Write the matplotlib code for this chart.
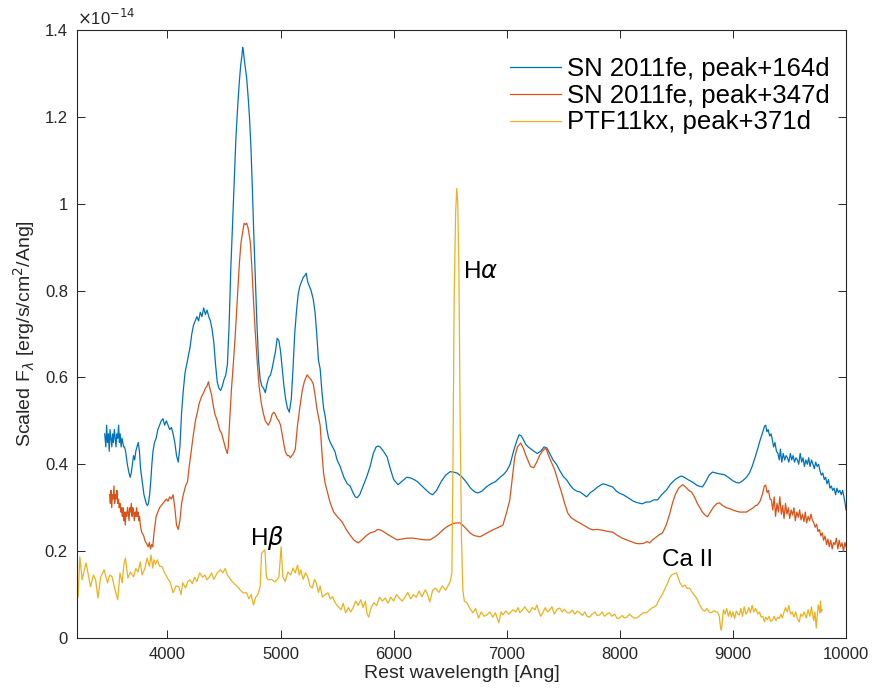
import matplotlib
matplotlib.use("Agg")
import matplotlib.pyplot as plt
import numpy as np
from matplotlib.ticker import FixedLocator, FuncFormatter

plt.rcParams['font.family'] = ['Liberation Sans', 'DejaVu Sans']
plt.rcParams['mathtext.fontset'] = 'dejavusans'

# Flux values are in units of 1e-14 erg/s/cm^2/Ang
FLUX_UNIT_EXP = -14

# ---- SN 2011fe, peak+164d ----
wl_164 = [
    3445, 3455, 3462, 3470, 3478, 3485, 3492, 3500, 3508, 3515, 3522, 3530, 3538, 3545, 3552, 3560,
    3568, 3575, 3582, 3590, 3598, 3605, 3612, 3620, 3630, 3645, 3660, 3670, 3680, 3690, 3700, 3710,
    3720, 3730, 3742, 3752, 3762, 3772, 3782, 3792, 3802, 3812, 3822, 3832, 3842, 3852, 3862, 3872,
    3885, 3900, 3915, 3930, 3945, 3960, 3975, 3990, 4005, 4020, 4035, 4050, 4065, 4080, 4095, 4110,
    4125, 4140, 4155, 4170, 4185, 4200, 4215, 4230, 4245, 4260, 4275, 4290, 4305, 4320, 4335, 4350,
    4365, 4380, 4395, 4410, 4425, 4440, 4455, 4470, 4485, 4500, 4515, 4530, 4545, 4560, 4575, 4590,
    4605, 4620, 4635, 4648, 4658, 4665, 4672, 4680, 4690, 4700, 4712, 4725, 4738, 4750, 4762, 4775,
    4790, 4805, 4820, 4835, 4850, 4865, 4880, 4895, 4910, 4925, 4940, 4955, 4970, 4985, 5000, 5015,
    5030, 5045, 5060, 5077, 5095, 5110, 5125, 5140, 5155, 5170, 5185, 5200, 5215, 5227, 5240, 5255,
    5270, 5289, 5305, 5320, 5335, 5350, 5365, 5380, 5395, 5410, 5425, 5440, 5460, 5480, 5500, 5527,
    5560, 5590, 5615, 5640, 5660, 5677, 5700, 5730, 5760, 5792, 5820, 5845, 5862, 5880, 5910, 5942,
    5970, 6000, 6039, 6080, 6115, 6145, 6180, 6210, 6250, 6290, 6320, 6345, 6380, 6420, 6460, 6500,
    6530, 6560, 6600, 6640, 6680, 6720, 6745, 6780, 6820, 6860, 6900, 6940, 6970, 7000, 7030, 7060,
    7090, 7110, 7130, 7150, 7170, 7190, 7215, 7240, 7270, 7300, 7330, 7354, 7380, 7410, 7442, 7470,
    7500, 7530, 7560, 7590, 7620, 7650, 7680, 7707, 7740, 7770, 7800, 7830, 7850, 7880, 7910, 7936,
    7970, 8000, 8030, 8060, 8090, 8120, 8150, 8180, 8201, 8230, 8263, 8300, 8334, 8370, 8413, 8450,
    8490, 8520, 8545, 8570, 8600, 8643, 8680, 8710, 8731, 8760, 8790, 8819, 8850, 8880, 8925, 8960,
    9000, 9030, 9057, 9090, 9120, 9146, 9170, 9195, 9216, 9240, 9265, 9280, 9290, 9300, 9312, 9325,
    9338, 9349, 9360, 9372, 9385, 9398, 9410, 9420, 9432, 9445, 9458, 9470, 9482, 9495, 9508, 9520,
    9532, 9545, 9558, 9570, 9582, 9595, 9608, 9620, 9632, 9645, 9658, 9670, 9682, 9695, 9708, 9720,
    9732, 9745, 9758, 9770, 9782, 9795, 9808, 9820, 9832, 9845, 9858, 9870, 9882, 9895, 9908, 9920,
    9932, 9945, 9958, 9970, 9982, 9992, 10000,
]
flux_164 = [
    0.47, 0.44, 0.49, 0.45, 0.47, 0.43, 0.48, 0.46, 0.44, 0.47, 0.45, 0.48, 0.46, 0.44, 0.47, 0.46,
    0.49, 0.45, 0.47, 0.44, 0.46, 0.45, 0.44, 0.44, 0.43, 0.40, 0.38, 0.37, 0.38, 0.40, 0.42, 0.41,
    0.43, 0.44, 0.45, 0.43, 0.39, 0.37, 0.35, 0.33, 0.32, 0.31, 0.305, 0.31, 0.33, 0.36, 0.40, 0.43,
    0.45, 0.46, 0.48, 0.49, 0.50, 0.505, 0.49, 0.50, 0.49, 0.48, 0.485, 0.47, 0.45, 0.42, 0.405, 0.44,
    0.52, 0.57, 0.61, 0.63, 0.65, 0.67, 0.70, 0.72, 0.73, 0.74, 0.73, 0.75, 0.74, 0.76, 0.745, 0.755,
    0.74, 0.73, 0.71, 0.68, 0.63, 0.59, 0.575, 0.57, 0.58, 0.595, 0.605, 0.63, 0.72, 0.85, 0.95, 1.05,
    1.15, 1.22, 1.28, 1.32, 1.34, 1.36, 1.35, 1.33, 1.31, 1.29, 1.25, 1.20, 1.13, 1.04, 0.94, 0.84,
    0.73, 0.64, 0.595, 0.58, 0.575, 0.565, 0.585, 0.60, 0.605, 0.62, 0.64, 0.66, 0.69, 0.685, 0.66, 0.62,
    0.58, 0.55, 0.53, 0.52, 0.55, 0.62, 0.70, 0.75, 0.79, 0.81, 0.82, 0.83, 0.835, 0.84, 0.82, 0.81,
    0.80, 0.78, 0.75, 0.70, 0.64, 0.62, 0.57, 0.53, 0.51, 0.48, 0.46, 0.45, 0.44, 0.43, 0.41, 0.395,
    0.37, 0.355, 0.35, 0.335, 0.325, 0.323, 0.33, 0.35, 0.37, 0.395, 0.425, 0.44, 0.442, 0.44, 0.43, 0.417,
    0.39, 0.365, 0.353, 0.362, 0.37, 0.369, 0.365, 0.36, 0.35, 0.34, 0.333, 0.33, 0.34, 0.36, 0.375, 0.383,
    0.382, 0.38, 0.372, 0.36, 0.345, 0.336, 0.334, 0.338, 0.348, 0.355, 0.36, 0.37, 0.376, 0.385, 0.40, 0.43,
    0.455, 0.468, 0.465, 0.455, 0.445, 0.44, 0.435, 0.43, 0.425, 0.43, 0.44, 0.438, 0.425, 0.41, 0.399, 0.385,
    0.372, 0.364, 0.352, 0.343, 0.338, 0.336, 0.33, 0.325, 0.335, 0.34, 0.347, 0.352, 0.355, 0.353, 0.35, 0.348,
    0.338, 0.333, 0.33, 0.325, 0.32, 0.315, 0.312, 0.31, 0.309, 0.313, 0.313, 0.318, 0.318, 0.33, 0.341, 0.355,
    0.365, 0.37, 0.373, 0.37, 0.365, 0.359, 0.352, 0.349, 0.348, 0.36, 0.375, 0.382, 0.38, 0.378, 0.376, 0.37,
    0.362, 0.358, 0.357, 0.363, 0.37, 0.38, 0.395, 0.415, 0.433, 0.455, 0.475, 0.488, 0.49, 0.475, 0.48, 0.465,
    0.47, 0.456, 0.44, 0.45, 0.43, 0.425, 0.41, 0.435, 0.405, 0.425, 0.41, 0.42, 0.415, 0.405, 0.425, 0.41,
    0.42, 0.405, 0.415, 0.41, 0.40, 0.425, 0.405, 0.415, 0.395, 0.41, 0.40, 0.415, 0.395, 0.41, 0.40, 0.39,
    0.405, 0.395, 0.40, 0.385, 0.375, 0.38, 0.365, 0.37, 0.355, 0.365, 0.345, 0.35, 0.34, 0.345, 0.33, 0.345,
    0.335, 0.34, 0.33, 0.34, 0.325, 0.31, 0.295,
]

# ---- SN 2011fe, peak+347d ----
wl_347 = [
    3488, 3495, 3500, 3507, 3513, 3520, 3527, 3533, 3540, 3547, 3553, 3560, 3567, 3573, 3580, 3587,
    3593, 3600, 3607, 3613, 3620, 3627, 3633, 3640, 3647, 3653, 3660, 3667, 3673, 3680, 3687, 3693,
    3700, 3707, 3713, 3720, 3727, 3733, 3740, 3747, 3753, 3760, 3770, 3780, 3790, 3800, 3810, 3820,
    3830, 3840, 3850, 3860, 3870, 3880, 3890, 3900, 3915, 3930, 3945, 3960, 3975, 3990, 4005, 4020,
    4035, 4050, 4065, 4080, 4095, 4110, 4125, 4140, 4160, 4177, 4195, 4215, 4230, 4247, 4265, 4280,
    4300, 4320, 4335, 4350, 4362, 4375, 4390, 4405, 4420, 4441, 4460, 4480, 4495, 4510, 4522, 4530,
    4538, 4550, 4565, 4583, 4600, 4618, 4636, 4650, 4665, 4678, 4689, 4700, 4712, 4722, 4733, 4745,
    4759, 4775, 4794, 4810, 4830, 4847, 4865, 4891, 4910, 4925, 4940, 4955, 4970, 4985, 5000, 5020,
    5041, 5060, 5075, 5086, 5100, 5115, 5130, 5150, 5170, 5192, 5210, 5225, 5236, 5250, 5270, 5289,
    5305, 5320, 5335, 5350, 5365, 5380, 5394, 5410, 5439, 5470, 5500, 5545, 5580, 5620, 5650, 5686,
    5720, 5760, 5792, 5830, 5860, 5880, 5910, 5950, 5990, 6030, 6080, 6120, 6171, 6220, 6270, 6321,
    6360, 6400, 6440, 6470, 6498, 6530, 6560, 6586, 6610, 6640, 6675, 6710, 6763, 6800, 6840, 6877,
    6920, 6966, 7000, 7027, 7050, 7071, 7095, 7124, 7150, 7170, 7186, 7210, 7239, 7265, 7290, 7315,
    7345, 7370, 7395, 7424, 7455, 7486, 7512, 7539, 7570, 7610, 7645, 7690, 7730, 7760, 7800, 7850,
    7900, 7936, 7980, 8020, 8060, 8100, 8140, 8175, 8210, 8240, 8263, 8289, 8320, 8350, 8378, 8410,
    8440, 8466, 8490, 8520, 8554, 8580, 8610, 8634, 8660, 8685, 8704, 8730, 8755, 8775, 8800, 8830,
    8860, 8881, 8910, 8940, 8970, 8996, 9030, 9060, 9090, 9120, 9150, 9180, 9200, 9216, 9240, 9260,
    9278, 9290, 9302, 9315, 9328, 9340, 9352, 9365, 9377, 9390, 9402, 9415, 9428, 9440, 9452, 9465,
    9478, 9490, 9502, 9515, 9528, 9540, 9552, 9565, 9578, 9590, 9602, 9615, 9628, 9640, 9652, 9665,
    9678, 9690, 9702, 9715, 9728, 9740, 9752, 9765, 9778, 9790, 9802, 9815, 9828, 9840, 9852, 9865,
    9878, 9890, 9902, 9915, 9928, 9940, 9952, 9965, 9978, 9990, 10000,
]
flux_347 = [
    0.33, 0.31, 0.34, 0.30, 0.33, 0.32, 0.35, 0.31, 0.33, 0.32, 0.34, 0.31, 0.32, 0.30, 0.31, 0.29,
    0.30, 0.28, 0.30, 0.27, 0.29, 0.26, 0.29, 0.28, 0.30, 0.29, 0.27, 0.30, 0.29, 0.31, 0.28, 0.30,
    0.29, 0.27, 0.29, 0.28, 0.30, 0.28, 0.29, 0.27, 0.28, 0.26, 0.245, 0.24, 0.235, 0.225, 0.22, 0.215,
    0.21, 0.22, 0.205, 0.215, 0.21, 0.24, 0.26, 0.28, 0.29, 0.30, 0.305, 0.31, 0.315, 0.32, 0.315, 0.325,
    0.32, 0.33, 0.30, 0.26, 0.25, 0.27, 0.31, 0.33, 0.35, 0.36, 0.40, 0.44, 0.47, 0.50, 0.52, 0.54,
    0.555, 0.565, 0.575, 0.58, 0.59, 0.575, 0.56, 0.535, 0.515, 0.50, 0.48, 0.47, 0.455, 0.44, 0.43, 0.425,
    0.44, 0.50, 0.57, 0.634, 0.70, 0.78, 0.864, 0.91, 0.935, 0.955, 0.952, 0.955, 0.945, 0.93, 0.91, 0.86,
    0.786, 0.71, 0.634, 0.58, 0.54, 0.518, 0.50, 0.49, 0.50, 0.515, 0.52, 0.515, 0.505, 0.50, 0.49, 0.46,
    0.43, 0.42, 0.42, 0.415, 0.42, 0.425, 0.435, 0.49, 0.53, 0.57, 0.59, 0.60, 0.606, 0.60, 0.595, 0.585,
    0.56, 0.53, 0.51, 0.49, 0.43, 0.38, 0.357, 0.34, 0.311, 0.29, 0.28, 0.267, 0.25, 0.235, 0.225, 0.219,
    0.226, 0.236, 0.242, 0.245, 0.25, 0.249, 0.245, 0.238, 0.232, 0.226, 0.228, 0.23, 0.23, 0.228, 0.226, 0.226,
    0.232, 0.24, 0.25, 0.256, 0.26, 0.264, 0.265, 0.265, 0.26, 0.252, 0.242, 0.236, 0.233, 0.238, 0.244, 0.249,
    0.254, 0.26, 0.29, 0.318, 0.37, 0.417, 0.44, 0.449, 0.435, 0.42, 0.41, 0.395, 0.392, 0.405, 0.42, 0.43,
    0.438, 0.42, 0.405, 0.387, 0.36, 0.334, 0.31, 0.288, 0.277, 0.27, 0.265, 0.258, 0.252, 0.249, 0.25, 0.248,
    0.245, 0.244, 0.236, 0.23, 0.226, 0.222, 0.218, 0.217, 0.218, 0.222, 0.219, 0.226, 0.232, 0.238, 0.242, 0.26,
    0.285, 0.311, 0.33, 0.345, 0.353, 0.348, 0.34, 0.336, 0.325, 0.31, 0.302, 0.29, 0.283, 0.279, 0.29, 0.302,
    0.31, 0.311, 0.305, 0.30, 0.298, 0.295, 0.292, 0.29, 0.29, 0.29, 0.295, 0.30, 0.305, 0.306, 0.315, 0.33,
    0.35, 0.352, 0.335, 0.34, 0.32, 0.318, 0.295, 0.325, 0.28, 0.31, 0.29, 0.325, 0.285, 0.305, 0.275, 0.31,
    0.285, 0.30, 0.275, 0.295, 0.283, 0.30, 0.27, 0.29, 0.278, 0.295, 0.272, 0.285, 0.268, 0.29, 0.265, 0.28,
    0.27, 0.285, 0.272, 0.265, 0.255, 0.262, 0.245, 0.25, 0.235, 0.242, 0.225, 0.235, 0.215, 0.228, 0.21, 0.225,
    0.205, 0.22, 0.215, 0.23, 0.205, 0.225, 0.21, 0.219, 0.20, 0.22, 0.21,
]

# ---- PTF11kx, peak+371d ----
wl_371 = [
    3200, 3210, 3225, 3245, 3280, 3320, 3345, 3365, 3385, 3410, 3440, 3470, 3490, 3510, 3530, 3560,
    3580, 3600, 3615, 3628, 3650, 3672, 3700, 3720, 3740, 3760, 3775, 3800, 3820, 3840, 3855, 3870,
    3880, 3895, 3910, 3930, 3950, 3975, 4000, 4025, 4050, 4075, 4100, 4120, 4135, 4160, 4180, 4200,
    4220, 4240, 4260, 4285, 4310, 4330, 4350, 4370, 4390, 4410, 4440, 4470, 4490, 4510, 4530, 4560,
    4590, 4620, 4645, 4670, 4700, 4720, 4740, 4760, 4780, 4800, 4820, 4832, 4848, 4862, 4875, 4890,
    4920, 4950, 4985, 5005, 5020, 5040, 5065, 5090, 5110, 5130, 5150, 5165, 5180, 5200, 5220, 5240,
    5260, 5280, 5300, 5315, 5335, 5350, 5370, 5395, 5420, 5440, 5460, 5480, 5500, 5515, 5535, 5555,
    5575, 5600, 5620, 5640, 5665, 5685, 5710, 5730, 5750, 5765, 5780, 5800, 5825, 5850, 5875, 5900,
    5925, 5950, 5975, 6000, 6025, 6050, 6075, 6100, 6125, 6150, 6175, 6200, 6225, 6250, 6280, 6300,
    6320, 6345, 6370, 6400, 6430, 6460, 6480, 6500, 6515, 6525, 6535, 6548, 6558, 6567, 6577, 6588,
    6600, 6612, 6625, 6648, 6670, 6700, 6725, 6750, 6775, 6800, 6824, 6850, 6877, 6900, 6930, 6950,
    6966, 6990, 7020, 7054, 7080, 7100, 7116, 7140, 7160, 7177, 7200, 7225, 7250, 7266, 7285, 7300,
    7319, 7340, 7360, 7380, 7400, 7420, 7445, 7469, 7490, 7510, 7535, 7557, 7580, 7600, 7625, 7645,
    7670, 7690, 7710, 7733, 7755, 7780, 7800, 7822, 7845, 7865, 7890, 7910, 7930, 7955, 7975, 7998,
    8020, 8040, 8060, 8085, 8105, 8125, 8148, 8170, 8190, 8210, 8236, 8263, 8290, 8310, 8325, 8350,
    8375, 8395, 8420, 8440, 8457, 8480, 8501, 8515, 8530, 8554, 8575, 8595, 8616, 8640, 8660, 8678,
    8700, 8715, 8731, 8750, 8770, 8790, 8810, 8830, 8850, 8863, 8880, 8890, 8898, 8908, 8916, 8930,
    8945, 8960, 8975, 8987, 9000, 9015, 9030, 9045, 9057, 9070, 9085, 9100, 9115, 9128, 9140, 9155,
    9170, 9185, 9200, 9207, 9220, 9235, 9250, 9265, 9278, 9290, 9305, 9320, 9335, 9349, 9365, 9380,
    9395, 9410, 9425, 9437, 9450, 9465, 9480, 9495, 9510, 9525, 9540, 9555, 9570, 9587, 9600, 9615,
    9630, 9649, 9665, 9680, 9695, 9702, 9715, 9725, 9737, 9745, 9755, 9762, 9768, 9775, 9781, 9790,
]
flux_371 = [
    0.15, 0.094, 0.187, 0.134, 0.173, 0.118, 0.145, 0.134, 0.092, 0.141, 0.157, 0.127, 0.145, 0.141, 0.118, 0.088,
    0.15, 0.127, 0.17, 0.184, 0.138, 0.152, 0.141, 0.16, 0.152, 0.175, 0.145, 0.16, 0.184, 0.165, 0.191, 0.161,
    0.18, 0.17, 0.18, 0.165, 0.165, 0.15, 0.138, 0.128, 0.104, 0.12, 0.118, 0.10, 0.127, 0.115, 0.13, 0.134,
    0.125, 0.14, 0.13, 0.15, 0.14, 0.145, 0.134, 0.14, 0.15, 0.135, 0.15, 0.157, 0.15, 0.16, 0.145, 0.134,
    0.125, 0.118, 0.11, 0.104, 0.104, 0.09, 0.10, 0.076, 0.094, 0.10, 0.12, 0.195, 0.20, 0.203, 0.14, 0.134,
    0.135, 0.129, 0.14, 0.21, 0.141, 0.13, 0.152, 0.145, 0.161, 0.15, 0.168, 0.145, 0.157, 0.135, 0.15, 0.141,
    0.12, 0.115, 0.135, 0.127, 0.105, 0.12, 0.094, 0.10, 0.104, 0.09, 0.095, 0.083, 0.075, 0.071, 0.065, 0.08,
    0.058, 0.07, 0.06, 0.069, 0.085, 0.075, 0.088, 0.07, 0.085, 0.055, 0.048, 0.07, 0.081, 0.075, 0.094, 0.085,
    0.092, 0.08, 0.094, 0.085, 0.10, 0.092, 0.085, 0.094, 0.105, 0.09, 0.10, 0.094, 0.108, 0.095, 0.111, 0.10,
    0.083, 0.11, 0.115, 0.105, 0.12, 0.11, 0.12, 0.13, 0.15, 0.42, 0.78, 0.98, 1.035, 1.0, 0.85, 0.50,
    0.23, 0.11, 0.085, 0.081, 0.07, 0.058, 0.068, 0.046, 0.06, 0.05, 0.053, 0.06, 0.048, 0.058, 0.035, 0.06,
    0.053, 0.062, 0.055, 0.065, 0.06, 0.07, 0.058, 0.065, 0.072, 0.065, 0.058, 0.07, 0.065, 0.076, 0.06, 0.05,
    0.058, 0.07, 0.06, 0.065, 0.072, 0.055, 0.066, 0.069, 0.06, 0.066, 0.058, 0.058, 0.064, 0.055, 0.062, 0.058,
    0.052, 0.06, 0.05, 0.048, 0.055, 0.06, 0.052, 0.053, 0.06, 0.05, 0.056, 0.058, 0.05, 0.055, 0.045, 0.046,
    0.052, 0.046, 0.048, 0.055, 0.05, 0.046, 0.046, 0.05, 0.055, 0.058, 0.058, 0.065, 0.07, 0.072, 0.076, 0.09,
    0.10, 0.111, 0.125, 0.138, 0.145, 0.148, 0.15, 0.14, 0.128, 0.118, 0.122, 0.114, 0.115, 0.105, 0.098, 0.092,
    0.08, 0.072, 0.065, 0.062, 0.068, 0.06, 0.058, 0.063, 0.06, 0.06, 0.05, 0.025, 0.018, 0.045, 0.065, 0.055,
    0.068, 0.05, 0.062, 0.048, 0.06, 0.045, 0.062, 0.055, 0.053, 0.068, 0.05, 0.072, 0.055, 0.06, 0.07, 0.058,
    0.075, 0.06, 0.068, 0.065, 0.055, 0.06, 0.048, 0.05, 0.037, 0.048, 0.042, 0.05, 0.038, 0.041, 0.05, 0.04,
    0.048, 0.045, 0.055, 0.046, 0.058, 0.07, 0.06, 0.075, 0.055, 0.06, 0.048, 0.06, 0.045, 0.037, 0.055, 0.05,
    0.06, 0.046, 0.065, 0.05, 0.072, 0.058, 0.04, 0.06, 0.023, 0.05, 0.076, 0.07, 0.058, 0.085, 0.06, 0.065,
]

series_labels = ['SN 2011fe, peak+164d', 'SN 2011fe, peak+347d', 'PTF11kx, peak+371d']
series_colors = ['#0072BD', '#D95319', '#EDB120']

x_ticks = [4000, 5000, 6000, 7000, 8000, 9000, 10000]
y_ticks = [0, 0.2, 0.4, 0.6, 0.8, 1.0, 1.2, 1.4]

# Line identifications: (label, wavelength, flux) of the text anchor
line_ids = [('H$\\alpha$', 6612, 0.83), ('H$\\beta$', 4733, 0.214), ('Ca II', 8369, 0.166)]

axis_grey = '#262626'

fig = plt.figure(figsize=(8.72, 6.89), dpi=100)
ax = fig.add_axes([77 / 872, 51 / 689, 769 / 872, 608 / 689])

for wl, fl, lab, col in zip([wl_164, wl_347, wl_371], [flux_164, flux_347, flux_371],
                            series_labels, series_colors):
    ax.plot(wl, fl, color=col, lw=0.9, label=lab)

ax.set_xlim(3200, 10000)
ax.set_ylim(0, 1.4)
ax.xaxis.set_major_locator(FixedLocator(x_ticks))
ax.yaxis.set_major_locator(FixedLocator(y_ticks))
ax.yaxis.set_major_formatter(FuncFormatter(lambda v, p: f'{v:g}'))
ax.tick_params(direction='in', length=5.5, width=0.7, top=True, right=True,
               labelsize=12, colors=axis_grey, pad=6.5)
for sp in ax.spines.values():
    sp.set_color(axis_grey)
    sp.set_linewidth(0.8)

ax.set_xlabel('Rest wavelength [Ang]', fontsize=14, color=axis_grey, labelpad=2)
ax.set_ylabel('Scaled F$_\\lambda$ [erg/s/cm$^2$/Ang]', fontsize=14, color=axis_grey, labelpad=6)
ax.text(0.0, 1.004, '$\\times$10$^{%d}$' % FLUX_UNIT_EXP, transform=ax.transAxes,
        fontsize=12, color=axis_grey, ha='left', va='bottom')

for txt, xw, yf in line_ids:
    ax.text(xw, yf, txt, fontsize=17.5, color='black', ha='left', va='baseline')

leg = ax.legend(loc='upper left', bbox_to_anchor=(0.563, 0.955), frameon=False,
                fontsize=18.5, handlelength=2.0, handletextpad=0.23, labelspacing=0.1,
                borderaxespad=0, borderpad=0)

fig.savefig('out.png', dpi=100)
